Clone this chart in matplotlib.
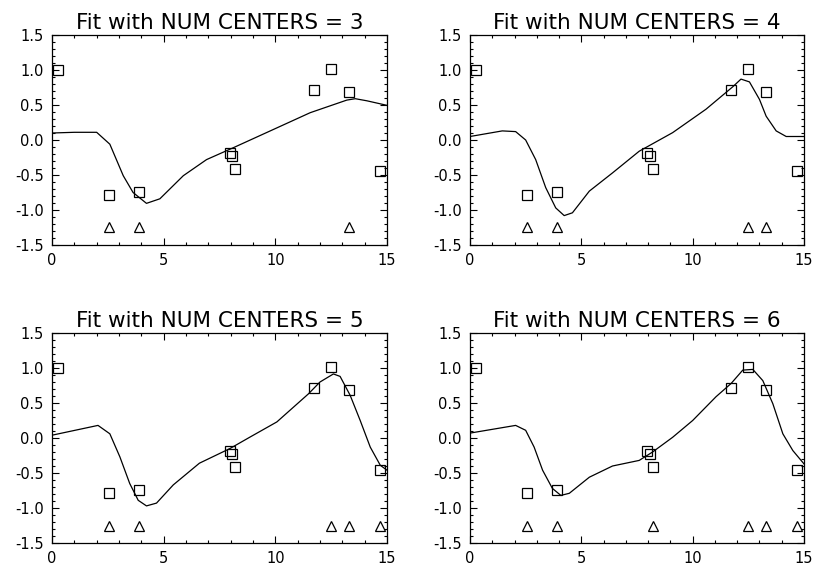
import numpy as np
import matplotlib.pyplot as plt
from matplotlib.ticker import MultipleLocator

# data points (squares), same in every panel
data_x = [0.27, 2.54, 3.90, 7.97, 8.07, 8.21, 11.71, 12.49, 13.31, 14.67]
data_y = [1.00, -0.78, -0.74, -0.18, -0.23, -0.41, 0.72, 1.02, 0.69, -0.45]

num_centers = [3, 4, 5, 6]

# center positions (triangles) for each fit
centers = {
    3: [2.54, 3.90, 13.31],
    4: [2.54, 3.90, 12.49, 13.31],
    5: [2.54, 3.90, 12.49, 13.31, 14.67],
    6: [2.54, 3.90, 8.21, 12.49, 13.31, 14.67],
}
center_y = -1.25

# fitted curves
fit_x = {
    3: [0.0, 1.0, 2.0, 2.59, 3.19, 3.63, 4.23, 4.83, 5.88, 6.92, 8.12, 9.91, 11.56, 13.2, 13.58, 14.1, 15.0],
    4: [0.0, 1.45, 2.05, 2.5, 2.95, 3.4, 3.85, 4.23, 4.6, 5.36, 6.4, 7.6, 9.1, 10.6, 11.8, 12.17, 12.55, 13.0, 13.3, 13.75, 14.2, 15.0],
    5: [0.0, 2.06, 2.59, 3.04, 3.48, 3.86, 4.23, 4.68, 5.43, 6.6, 7.97, 8.87, 10.07, 11.48, 12.0, 12.6, 12.9, 13.35, 13.8, 14.25, 14.7, 15.0],
    6: [0.0, 2.05, 2.5, 2.88, 3.26, 3.7, 4.08, 4.46, 5.36, 6.4, 7.6, 8.2, 9.1, 10.0, 11.05, 11.73, 12.25, 12.7, 13.15, 13.6, 14.05, 14.5, 15.0],
}
fit_y = {
    3: [0.10, 0.11, 0.11, -0.06, -0.51, -0.75, -0.905, -0.84, -0.51, -0.28, -0.11, 0.15, 0.39, 0.57, 0.59, 0.56, 0.495],
    4: [0.05, 0.13, 0.12, 0.0, -0.28, -0.68, -0.97, -1.08, -1.04, -0.73, -0.47, -0.16, 0.105, 0.44, 0.76, 0.87, 0.83, 0.58, 0.34, 0.13, 0.05, 0.05],
    5: [0.04, 0.18, 0.06, -0.27, -0.65, -0.89, -0.97, -0.93, -0.67, -0.36, -0.15, 0.014, 0.23, 0.63, 0.80, 0.915, 0.88, 0.61, 0.25, -0.13, -0.39, -0.46],
    6: [0.07, 0.18, 0.11, -0.13, -0.46, -0.72, -0.82, -0.79, -0.56, -0.40, -0.32, -0.20, 0.01, 0.25, 0.59, 0.78, 0.97, 0.98, 0.82, 0.49, 0.06, -0.18, -0.37],
}

plt.rcParams['font.family'] = ['DejaVu Sans']

fig = plt.figure(figsize=(8.13, 5.68), dpi=100)
W, H = 813.0, 568.0
# axes boxes in pixels: left, top, right, bottom
boxes = [(52, 35, 387, 245), (470, 35, 804, 245),
         (52, 333, 387, 543), (470, 333, 804, 543)]

for n, (l, t, r, b) in zip(num_centers, boxes):
    ax = fig.add_axes([l / W, 1 - b / H, (r - l) / W, (b - t) / H])
    ax.plot(fit_x[n], fit_y[n], color='black', lw=0.9)
    ax.plot(data_x, data_y, 's', ms=7.2, mfc='none', mec='black', mew=0.9, clip_on=False)
    ax.plot(centers[n], [center_y] * len(centers[n]), '^', ms=7.5, mfc='none',
            mec='black', mew=0.9, clip_on=False)
    ax.set_xlim(0, 15)
    ax.set_ylim(-1.5, 1.5)
    ax.xaxis.set_major_locator(MultipleLocator(5))
    ax.xaxis.set_minor_locator(MultipleLocator(1))
    ax.yaxis.set_major_locator(MultipleLocator(0.5))
    ax.yaxis.set_minor_locator(MultipleLocator(0.1))
    ax.yaxis.set_major_formatter(plt.FuncFormatter(lambda v, p: '%.1f' % v))
    ax.tick_params(which='both', direction='in', top=True, right=True,
                   labelsize=10.5, width=0.8)
    ax.tick_params(which='major', length=5, pad=6)
    ax.tick_params(which='minor', length=2.5)
    for s in ax.spines.values():
        s.set_linewidth(0.9)
    ax.set_title('Fit with NUM CENTERS = %d' % n, fontsize=15.5, pad=4)

fig.savefig('out.png', dpi=100)
